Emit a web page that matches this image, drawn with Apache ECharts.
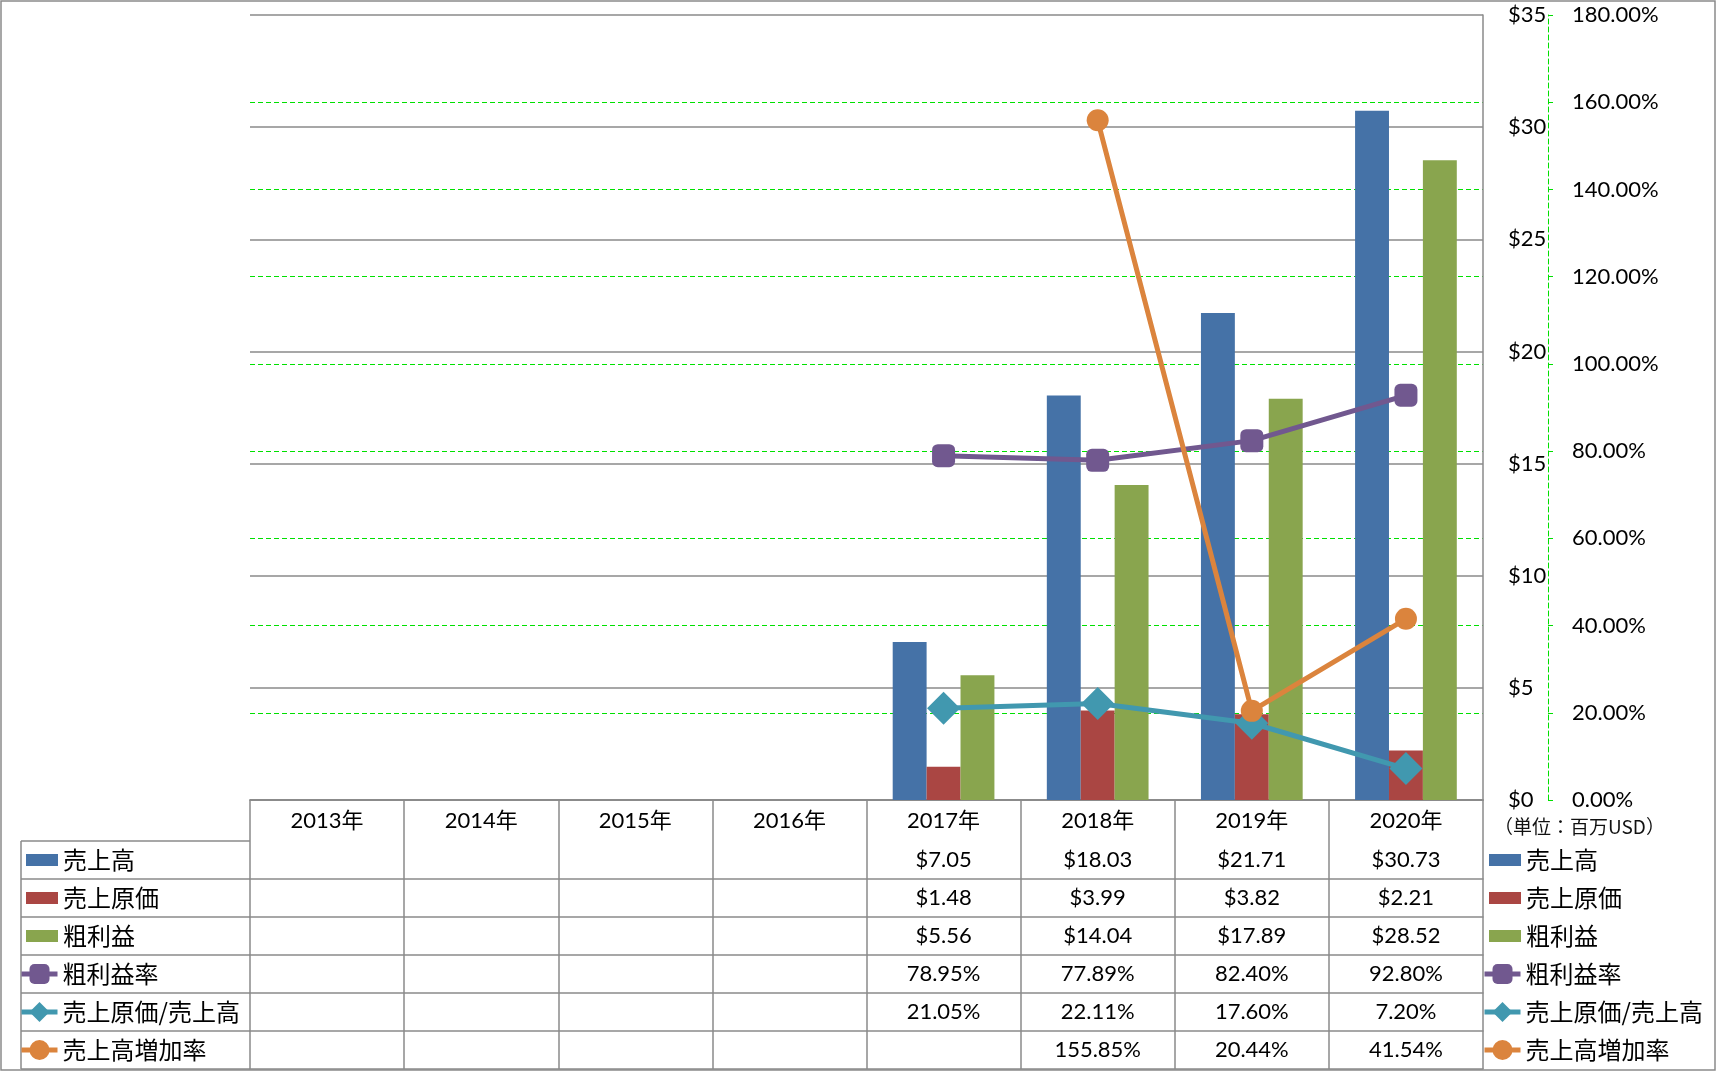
<!DOCTYPE html>
<html><head><meta charset="utf-8">
<script src="https://cdn.jsdelivr.net/npm/echarts@6/dist/echarts.min.js"></script>
<style>html,body{margin:0;padding:0;background:#fff}#c{width:1717px;height:1071px}</style>
</head><body><div id="c"></div><script>
// ---- data ----
const years = ['2013年','2014年','2015年','2016年','2017年','2018年','2019年','2020年'];
const sales        = [null,null,null,null,7.05,18.03,21.71,30.73];
const costOfSales  = [null,null,null,null,1.48,3.99,3.82,2.21];
const grossProfit  = [null,null,null,null,5.56,14.04,17.89,28.52];
const grossMargin  = [null,null,null,null,78.95,77.89,82.40,92.80];
const costRatio    = [null,null,null,null,21.05,22.11,17.60,7.20];
const salesGrowth  = [null,null,null,null,null,155.85,20.44,41.54];
const barNames  = ['売上高','売上原価','粗利益'];
const lineNames = ['粗利益率','売上原価/売上高','売上高増加率'];
const usdAxis = {min:0, max:35, step:5};
const pctAxis = {min:0, max:180, step:20};
const unitLabel = '（単位：百万USD）';

// ---- layout / style ----
const W = 1717, H = 1071;
const PL = 250, PR = 1483, PT = 15, PB = 800;
const HEAD_H = 41, ROW_H = 38, LEG_L = 21;
const GRAY = '#8a8a8a', GREEN = '#00e000';
const NUM_FONT = "Lato, 'Noto Sans CJK JP', sans-serif";
const JP_FONT = "'Noto Sans CJK JP', sans-serif";
const colors = ['#4572A7','#AA4643','#89A54E','#71588F','#4198AF','#DB843D'];

const fmtUsd = v => v == null ? '' : '$' + v.toFixed(2);
const fmtPct = v => v == null ? '' : v.toFixed(2) + '%';
const tableRows = [
  sales.map(fmtUsd), costOfSales.map(fmtUsd), grossProfit.map(fmtUsd),
  grossMargin.map(fmtPct), costRatio.map(fmtPct), salesGrowth.map(fmtPct)
];
const tableBottom = PB + HEAD_H + ROW_H * tableRows.length;

const xAxes = [{
  type:'category', data: years, gridIndex:0, position:'bottom',
  axisLine:{lineStyle:{color:GRAY, width:1.5}},
  axisTick:{show:true, length: tableBottom - PB, lineStyle:{color:GRAY, width:1.5}},
  axisLabel:{interval:0, margin:21, verticalAlign:'middle', fontSize:22, color:'#000', fontFamily:NUM_FONT},
  splitLine:{show:false}
}];
tableRows.forEach((row, i) => {
  xAxes.push({
    type:'category', data: years, gridIndex:0, position:'bottom', offset: HEAD_H + ROW_H * i,
    axisLine:{lineStyle:{color:GRAY, width:1.5}}, axisTick:{show:false},
    axisLabel:{interval:0, margin:ROW_H/2, verticalAlign:'middle', fontSize:22, color:'#000', fontFamily:NUM_FONT,
      formatter:(v, idx) => row[idx]},
    splitLine:{show:false}
  });
});
xAxes.push({
  type:'category', data: years, gridIndex:0, position:'bottom', offset: tableBottom - PB,
  axisLine:{lineStyle:{color:GRAY, width:1.5}}, axisTick:{show:false}, axisLabel:{show:false}, splitLine:{show:false}
});

const graphics = [{
  type:'rect', shape:{x:1, y:1, width:W-3, height:H-2}, style:{fill:'none', stroke:GRAY, lineWidth:1.5}, silent:true
}];
for (let i = 0; i <= tableRows.length; i++) {
  const y = PB + HEAD_H + ROW_H * i;
  graphics.push({type:'line', shape:{x1:LEG_L, y1:y, x2:PL, y2:y}, style:{stroke:GRAY, lineWidth:1.5}, silent:true});
}
graphics.push({type:'line', shape:{x1:LEG_L, y1:PB+HEAD_H, x2:LEG_L, y2:tableBottom}, style:{stroke:GRAY, lineWidth:1.5}, silent:true});

const legendText = {fontSize:24, lineHeight:30, color:'#000', fontFamily:JP_FONT};
const rowCenter = i => PB + HEAD_H + ROW_H * i + ROW_H / 2;
function legends(xBar, xLine) {
  return [
    {orient:'vertical', left:xBar, top:rowCenter(0) - 15, itemWidth:32, itemHeight:12, itemGap:ROW_H-30,
     padding:0, icon:'rect', data:barNames, textStyle:legendText, selectedMode:false},
    {orient:'vertical', left:xLine, top:rowCenter(3) - 15, itemWidth:36, itemHeight:25, itemGap:ROW_H-30,
     padding:0, data:lineNames, textStyle:legendText, selectedMode:false, lineStyle:{width:5}}
  ];
}

const option = {
  animation:false,
  backgroundColor:'#fff',
  title:{text:unitLabel, left:1494, top:817, padding:0,
    textStyle:{fontSize:19, fontWeight:'normal', color:'#111', fontFamily:JP_FONT}},
  legend: legends(26, 19).concat(legends(1489, 1482)),
  grid:{left:PL, right:W-PR, top:PT, bottom:H-PB, containLabel:false, outerBoundsMode:'none'},
  xAxis: xAxes,
  yAxis:[{
    type:'value', min:usdAxis.min, max:usdAxis.max, interval:usdAxis.step, position:'right', z:1,
    axisLine:{show:true, lineStyle:{color:GRAY, width:1.5}}, axisTick:{show:false},
    splitLine:{show:true, lineStyle:{color:GRAY, width:1.5}},
    axisLabel:{formatter:v => '$' + v, margin:25, fontSize:22, color:'#000', fontFamily:NUM_FONT}
  },{
    type:'value', min:pctAxis.min, max:pctAxis.max, interval:pctAxis.step, position:'right', offset:65, z:0,
    axisLine:{show:true, lineStyle:{color:GREEN, width:1, type:[5,3]}},
    axisTick:{show:true, length:8, lineStyle:{color:GREEN, width:1, type:[5,3]}},
    splitLine:{show:true, showMinLine:false, showMaxLine:false, lineStyle:{color:GREEN, width:1, type:[5,3]}},
    axisLabel:{formatter:v => v.toFixed(2) + '%', margin:24, fontSize:22, color:'#000', fontFamily:NUM_FONT}
  }],
  series:[
    {name:barNames[0], type:'bar', data:sales, itemStyle:{color:colors[0]}, barGap:'0%', barCategoryGap:'34%'},
    {name:barNames[1], type:'bar', data:costOfSales, itemStyle:{color:colors[1]}, barGap:'0%', barCategoryGap:'34%'},
    {name:barNames[2], type:'bar', data:grossProfit, itemStyle:{color:colors[2]}, barGap:'0%', barCategoryGap:'34%'},
    {name:lineNames[0], type:'line', yAxisIndex:1, data:grossMargin, symbol:'roundRect', symbolSize:23,
     itemStyle:{color:colors[3]}, lineStyle:{color:colors[3], width:5}, z:3},
    {name:lineNames[1], type:'line', yAxisIndex:1, data:costRatio, symbol:'diamond', symbolSize:33,
     itemStyle:{color:colors[4]}, lineStyle:{color:colors[4], width:5}, z:4},
    {name:lineNames[2], type:'line', yAxisIndex:1, data:salesGrowth, symbol:'circle', symbolSize:22,
     itemStyle:{color:colors[5]}, lineStyle:{color:colors[5], width:5}, z:5}
  ],
  graphic: graphics
};
const chart = echarts.init(document.getElementById('c'), null, {renderer:'canvas'});
chart.setOption(option);
</script></body></html>
